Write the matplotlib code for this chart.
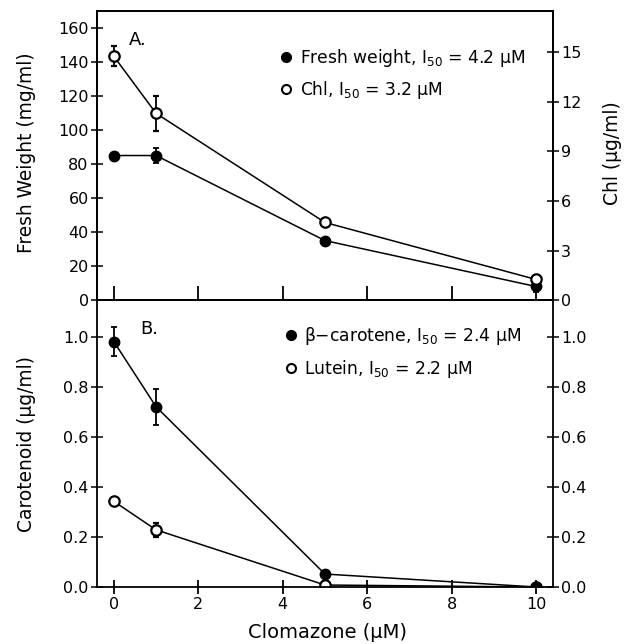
import numpy as np
import matplotlib
matplotlib.use("Agg")
import matplotlib.pyplot as plt
from matplotlib.lines import Line2D

# clomazone concentration (uM)
conc = [0, 1, 5, 10]

# panel A
fresh_wt = [85, 85, 35, 8]
fresh_err = [0, 4.5, 0, 3]
chl = [14.75, 11.3, 4.7, 1.25]
chl_err = [0.6, 1.05, 0, 0]

# panel B
bcar = [0.983, 0.722, 0.052, 0.0]
bcar_err = [0.058, 0.072, 0, 0]
lutein = [0.343, 0.229, 0.008, 0.0]
lutein_err = [0, 0.028, 0, 0]

xticks = [0, 2, 4, 6, 8, 10]

plt.rcParams['font.family'] = ['DejaVu Sans']
plt.rcParams['mathtext.default'] = 'regular'
plt.rcParams['font.size'] = 11.5

fig = plt.figure(figsize=(6.34, 6.44), dpi=100)
L, W = 0.153, 0.719
axA = fig.add_axes([L, 0.534, W, 0.449])
axB = fig.add_axes([L, 0.0885, W, 0.4457])
axAr = axA.twinx()

lw = 1.1
filled = dict(marker='o', ms=7.5, mfc='black', mec='black', color='black', lw=lw,
              capsize=2.5, elinewidth=1.3, capthick=1.3)
opened = dict(marker='o', ms=7.5, mfc='white', mec='black', mew=1.6, color='black', lw=lw,
              capsize=2.5, elinewidth=1.3, capthick=1.3)

axA.errorbar(conc, fresh_wt, yerr=fresh_err, **filled)
axAr.errorbar(conc, chl, yerr=chl_err, **opened)
axB.errorbar(conc, bcar, yerr=bcar_err, zorder=3, **filled)
axB.errorbar(conc, lutein, yerr=lutein_err, zorder=2, **opened)

for ax in (axA, axAr, axB):
    ax.set_xlim(-0.4, 10.4)
    for s in ax.spines.values():
        s.set_linewidth(1.3)

axA.set_ylim(0, 170)
axA.set_yticks(np.arange(0, 161, 20))
axAr.set_ylim(0, 17.5)
axAr.set_yticks([0, 3, 6, 9, 12, 15])
axA.set_xticks(xticks)
axA.tick_params(axis='x', direction='in', length=10, width=1.3, labelbottom=False)
axA.tick_params(axis='y', direction='inout', length=8, width=1.1, pad=2)
axAr.tick_params(axis='y', direction='inout', length=8, width=1.1, pad=2)

axB.set_ylim(0, 1.15)
axB.set_yticks(np.arange(0, 1.01, 0.2))
axB.set_yticklabels(['%.1f' % v for v in np.arange(0, 1.01, 0.2)])
axB.set_xticks(xticks)
axB.tick_params(axis='x', direction='inout', length=10, width=1.3, pad=2)
axB.tick_params(axis='y', direction='inout', length=8, width=1.1, pad=2,
                right=True, labelright=True)

axA.text(0.07, 0.90, 'A.', transform=axA.transAxes, fontsize=13, va='center')
axB.text(0.095, 0.90, 'B.', transform=axB.transAxes, fontsize=13, va='center')

dot = Line2D([], [], marker='o', ls='none', ms=7, mfc='black', mec='black')
ring = Line2D([], [], marker='o', ls='none', ms=6.5, mfc='white', mec='black', mew=1.5)
axA.legend([dot, ring], ['Fresh weight, I$_{50}$ = 4.2 μM', 'Chl, I$_{50}$ = 3.2 μM'],
           loc='upper left', bbox_to_anchor=(0.37, 0.93), frameon=False,
           handlelength=0.6, handletextpad=0.5, labelspacing=0.62, fontsize=12.3)
axB.legend([dot, ring], ['$\\beta$−carotene, I$_{50}$ = 2.4 μM', 'Lutein, I$_{50}$ = 2.2 μM'],
           loc='upper left', bbox_to_anchor=(0.38, 0.965), frameon=False,
           handlelength=0.6, handletextpad=0.5, labelspacing=0.62, fontsize=12.3)

fig.text(27 / 634, 1 - 153 / 644, 'Fresh Weight (mg/ml)', rotation=90,
         ha='center', va='center', fontsize=13.4)
fig.text(613 / 634, 1 - 153 / 644, 'Chl (μg/ml)', rotation=90,
         ha='center', va='center', fontsize=13.4)
fig.text(27 / 634, 1 - 444 / 644, 'Carotenoid (μg/ml)', rotation=90,
         ha='center', va='center', fontsize=13.4)
fig.text(328 / 634, 1 - 632 / 644, 'Clomazone (μM)',
         ha='center', va='center', fontsize=14)

fig.savefig('out.png', dpi=100)
